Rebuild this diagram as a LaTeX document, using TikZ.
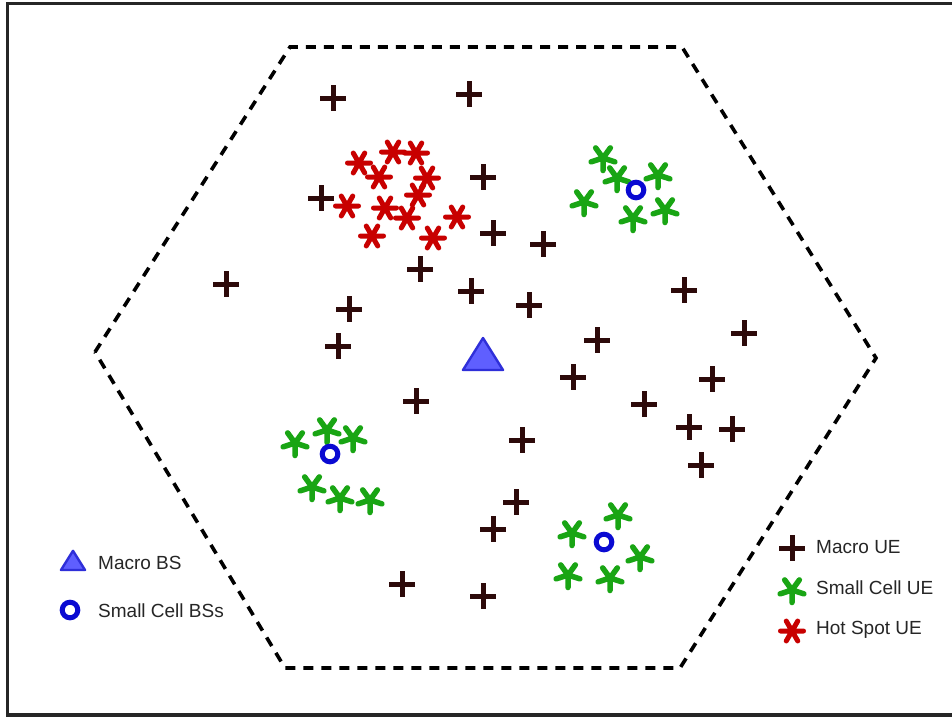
\documentclass[tikz,border=0pt]{standalone}
\usepackage{fontspec}
\setmainfont{Liberation Sans}
\definecolor{ueMacro}{RGB}{45,10,10}
\definecolor{ueSmall}{RGB}{25,165,20}
\definecolor{ueHot}{RGB}{200,0,0}
\definecolor{bsBlue}{RGB}{10,10,210}
\definecolor{bsFill}{RGB}{95,95,255}
\tikzset{
  mue/.pic={\draw[ueMacro,line width=5pt] (-13,0)--(13,0) (0,-13)--(0,13);},
  sue/.pic={\draw[ueSmall,line width=5.5pt,line cap=round]
     (0,0)--(90:12.5) (0,0)--(162:12.5) (0,0)--(234:12.5) (0,0)--(306:12.5) (0,0)--(18:12.5);},
  hue/.pic={\draw[ueHot,line width=5pt,line cap=round]
     (0:11.5)--(180:11.5) (60:11.5)--(240:11.5) (120:11.5)--(300:11.5);},
  sbs/.pic={\draw[bsBlue,line width=5pt,fill=white] (0,0) circle (7.8);},
  mbs/.pic={\draw[bsBlue!85!white,line width=2.4pt,fill=bsFill,line join=round] (-20,15)--(20,15)--(0,-17)--cycle;},
  lbl/.style={anchor=west,font=\fontsize{19}{21}\selectfont,text=black!85,inner sep=0pt}
}
\begin{document}
\begin{tikzpicture}[x=1pt,y=-1pt]
\useasboundingbox (0,0) rectangle (952,718);
\fill[white] (0,0) rectangle (952,718);
\draw[black!85,line width=3.2pt] (7.5,3.5) rectangle (970,715);
% hexagon cell border
\coordinate (h1) at (95,352);
\coordinate (h2) at (290,47);
\coordinate (h3) at (682,47);
\coordinate (h4) at (876,358);
\coordinate (h5) at (680,668);
\coordinate (h6) at (285,668);
\draw[black,line width=3.6pt,dash pattern=on 10pt off 8pt] (h1)--(h2)--(h3)--(h4)--(h5)--(h6)--cycle;
% macro UEs
\foreach \p in {(333,98),(469,94),(483,177),(321,198),(493,233),(543,244),(226,284),(420,269),(471,291),(529,305),(349,309),(338,346),(684,290),(744,333),(597,340),(573,377),(712,379),(416,401),(644,404),(689,427),(732,429),(701,465),(522,440),(516,502),(493,529),(402,584),(483,596)}
  \pic at \p {mue};
% hot spot UEs
\foreach \p in {(359,163),(393,152),(416,153),(379,177),(427,178),(418,195),(347,206),(385,208),(407,218),(457,217),(372,236),(433,238)}
  \pic at \p {hue};
% small cell UEs
\foreach \p in {(603,158),(617,178),(658,175),(584,202),(665,210),(633,218),
                (295,443),(327,430),(353,438),(312,487),(340,498),(370,500),
                (618,515),(572,533),(640,557),(568,575),(610,578)}
  \pic at \p {sue};
% small cell BSs
\pic at (636,190) {sbs};
\pic at (330,454) {sbs};
\pic at (604,542) {sbs};
% macro BS
\pic at (483,355) {mbs};
% legend left
\pic[scale=0.6] at (73,561) {mbs};
\node[lbl] (l1) at (98,563) {Macro BS};
\pic at (70,610) {sbs};
\node[lbl] (l2) at (98,611) {Small Cell BSs};
% legend right
\pic at (792,548) {mue};
\node[lbl] (l3) at (816,547) {Macro UE};
\pic at (792,590) {sue};
\node[lbl] (l4) at (816,588) {Small Cell UE};
\pic at (792,631) {hue};
\node[lbl] (l5) at (816,630) {Hot Spot UE};
\end{tikzpicture}
\end{document}
